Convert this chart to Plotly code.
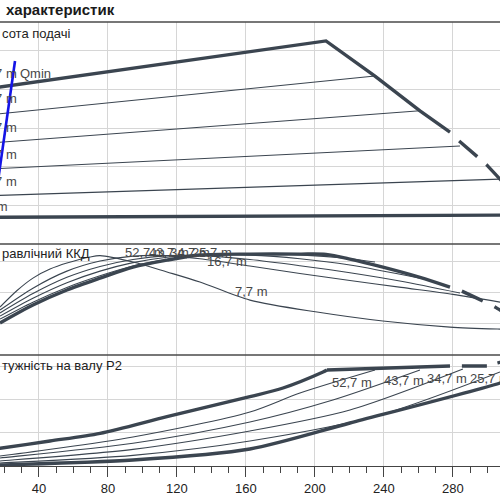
import plotly.graph_objects as go

# ---------------- data ----------------
Q_RANGE = [17.4, 307.3]
X_TICKS = [40, 80, 120, 160, 200, 240, 280]
SETPOINT_LABELS = ["52,7 m", "43,7 m", "34,7 m", "25,7 m", "16,7 m", "7,7 m"]

# top panel: head H (m)
q_max_solid = [10, 206.4, 234.8, 260.9, 278.3]
h_max_solid = [40.2, 52.6, 43.5, 34.5, 29.0]
q_max_dash = [283.6, 294.3, 299.6, 307.3, 315]
h_max_dash = [26.7, 22.5, 20.5, 16.8, 13.5]
q_h437 = [10, 234.8]
h_h437 = [33.4, 43.5]
q_h347 = [10, 260.9]
h_h347 = [26.1, 34.5]
q_h257 = [10, 284.1]
h_h257 = [19.4, 25.4]
q_h167 = [10, 307.3]
h_h167 = [12.5, 16.8]
q_min = [10, 307.3, 320]
h_min = [6.9, 7.5, 7.5]
q_qmin = [26.1, 13.3]
h_qmin = [47.4, 7.0]

# middle panel: hydraulic efficiency (%)
q_eta_max_solid = [17.4, 36.5, 56.2, 75.4, 94.5, 114.2, 133.3, 162.3, 191.3, 206.4, 220.3, 239.4, 260.9, 278.3]
eta_max_solid = [20.0, 31.6, 41.3, 49.0, 56.1, 60.6, 63.9, 64.5, 64.5, 64.3, 61.3, 56.1, 49.5, 43.2]
q_eta_max_dash = [285.2, 297.4, 304.4, 307.3, 315]
eta_max_dash = [40.6, 34.2, 30.3, 28.4, 24.0]
q_eta437 = [17.4, 36.5, 56.2, 75.4, 94.5, 114.2, 133.3, 162.3, 191.3, 220.3, 234.8]
eta437 = [22.6, 33.5, 43.0, 50.5, 56.8, 61.0, 63.6, 64.5, 64.0, 61.5, 59.4]
q_eta347 = [17.4, 36.5, 56.2, 75.4, 94.5, 114.2, 133.3, 162.3, 191.3, 220.3, 260.9]
eta347 = [24.5, 36.0, 46.0, 53.5, 59.0, 62.5, 64.0, 63.8, 61.5, 57.5, 49.0]
q_eta257 = [17.4, 36.5, 56.2, 75.4, 94.5, 114.2, 133.3, 162.3, 191.3, 220.3, 250, 284.1]
eta257 = [26.5, 39.0, 49.5, 56.5, 61.0, 63.5, 63.5, 61.0, 57.0, 52.5, 47.0, 39.4]
q_eta167 = [17.4, 36.5, 56.2, 75.4, 94.5, 114.2, 133.3, 162.3, 191.3, 220.3, 250, 280, 307.3]
eta167 = [28.4, 42.5, 53.5, 60.0, 63.2, 63.5, 61.5, 56.8, 52.0, 47.5, 43.0, 38.5, 33.5]
q_eta77 = [17.4, 27.3, 36.5, 46.4, 56.2, 69.6, 75.4, 94.5, 114.2, 133.3, 162.3, 201.2, 239.4, 278.3, 307.3, 315]
eta77 = [30.3, 41.0, 49.0, 54.8, 58.7, 62.6, 63.5, 59.4, 53.0, 46.5, 34.8, 27.1, 21.3, 17.4, 16.1, 15.9]

# bottom panel: shaft power P2
q_p_max_rise = [10, 17.4, 46.4, 75.4, 114.2, 162.3, 181.5, 204.7, 207.0]
p_max_rise = [4.8, 5.3, 7.5, 9.8, 14.8, 20.8, 23.4, 28.2, 28.8]
q_p_max_flat = [207.0, 278.3]
p_max_flat = [28.8, 30.0]
q_p_max_dash = [285.2, 299.7, 305.9, 315]
p_max_dash = [30.0, 30.0, 30.9, 32.5]
q_p437 = [10, 17.4, 94.5, 162.3, 191.3, 234.8]
p437 = [2.6, 3.0, 8.7, 16.2, 21.9, 28.8]
q_p347 = [10, 17.4, 94.5, 162.3, 210.4, 260.9]
p347 = [2.0, 2.4, 6.8, 13.2, 19.8, 28.8]
q_p257 = [10, 17.4, 94.5, 162.3, 220.3, 285.8]
p257 = [1.2, 1.5, 5.0, 10.5, 16.8, 29.1]
q_p167 = [10, 17.4, 94.5, 162.3, 237.7, 307.3]
p167 = [0.7, 0.9, 3.2, 7.5, 15.3, 28.2]
q_p77 = [10, 17.4, 94.5, 162.3, 220.3, 307.3, 315]
p77 = [0.2, 0.3, 1.8, 5.1, 12.9, 24.9, 26.5]

# label anchors
lab_top_q = [28.4, 28.4, 28.4, 28.4, 28.4, 23.2]
lab_top_h = [44.2, 37.6, 30.3, 23.3, 16.3, 9.6]
lab_mid_q = [88.7, 102.6, 114.8, 127.5, 136.2, 152.5]
lab_mid_eta = [65.8, 65.8, 65.8, 65.8, 59.4, 40.6]
lab_bot_q = [208.7, 238.9, 263.8, 288.7]
lab_bot_p = [25.2, 25.8, 26.4, 26.4]

# ---------------- figure ----------------
DARK = "#3b4550"
THICK = 3.4
THIN = 1.1
FONT = "Liberation Sans, Arial, sans-serif"

fig = go.Figure()


def add(q, v, yaxis, width, dash=None, shape="linear", color=DARK):
    fig.add_trace(go.Scatter(
        x=q, y=v, yaxis=yaxis, mode="lines", hoverinfo="skip", showlegend=False,
        line=dict(color=color, width=width, dash=dash, shape=shape, smoothing=0.8),
    ))


# top
add(q_h437, h_h437, "y", THIN)
add(q_h347, h_h347, "y", THIN)
add(q_h257, h_h257, "y", THIN)
add(q_h167, h_h167, "y", THIN)
add(q_min, h_min, "y", THICK)
add(q_max_solid, h_max_solid, "y", THICK)
add(q_max_dash, h_max_dash, "y", THICK, dash="24px,12px")
add(q_qmin, h_qmin, "y", 2.6, color="#1414e6")

# middle
add(q_eta77, eta77, "y2", THIN, shape="spline")
add(q_eta167, eta167, "y2", THIN, shape="spline")
add(q_eta257, eta257, "y2", THIN, shape="spline")
add(q_eta347, eta347, "y2", THIN, shape="spline")
add(q_eta437, eta437, "y2", THIN, shape="spline")
add(q_eta_max_solid, eta_max_solid, "y2", THICK, shape="spline")
add(q_eta_max_dash, eta_max_dash, "y2", THICK, dash="23px,13px", shape="spline")

# bottom
add(q_p437, p437, "y3", THIN, shape="spline")
add(q_p347, p347, "y3", THIN, shape="spline")
add(q_p257, p257, "y3", THIN, shape="spline")
add(q_p167, p167, "y3", THIN, shape="spline")
add(q_p77, p77, "y3", THICK, shape="spline")
add(q_p_max_rise, p_max_rise, "y3", THICK, shape="spline")
add(q_p_max_flat, p_max_flat, "y3", THICK)
add(q_p_max_dash, p_max_dash, "y3", THICK, dash="25px,11px")

GRID = "#d6d6d6"
LABEL_COLOR = "#474747"

ann = []
for txt, q, h in zip(SETPOINT_LABELS, lab_top_q, lab_top_h):
    ann.append(dict(x=q, y=h, xref="x", yref="y", text=txt, showarrow=False,
                    xanchor="right", yanchor="middle",
                    font=dict(family=FONT, size=13, color=LABEL_COLOR)))
ann.append(dict(x=27.8, y=44.2, xref="x", yref="y", text="Qmin", showarrow=False,
                xanchor="left", yanchor="middle",
                font=dict(family=FONT, size=13, color=LABEL_COLOR)))
for txt, q, e in zip(SETPOINT_LABELS, lab_mid_q, lab_mid_eta):
    ann.append(dict(x=q, y=e, xref="x", yref="y2", text=txt, showarrow=False,
                    xanchor="left", yanchor="middle",
                    font=dict(family=FONT, size=13, color=LABEL_COLOR)))
for txt, q, p in zip(SETPOINT_LABELS, lab_bot_q, lab_bot_p):
    ann.append(dict(x=q, y=p, xref="x", yref="y3", text=txt, showarrow=False,
                    xanchor="left", yanchor="middle",
                    font=dict(family=FONT, size=13, color=LABEL_COLOR)))

# panel titles
ann.append(dict(x=0.008, y=1 - 9 / 500, xref="paper", yref="paper", text="<b>характеристик</b>",
                showarrow=False, xanchor="left", yanchor="middle",
                font=dict(family=FONT, size=15, color="#1a1a1a")))
ann.append(dict(x=0.0, y=1 - 33 / 500, xref="paper", yref="paper", text="сота подачі",
                showarrow=False, xanchor="left", yanchor="middle",
                font=dict(family=FONT, size=13, color="#222222")))
ann.append(dict(x=0.0, y=1 - 253 / 500, xref="paper", yref="paper", text="равлічний ККД",
                showarrow=False, xanchor="left", yanchor="middle",
                font=dict(family=FONT, size=13, color="#222222")))
ann.append(dict(x=0.0, y=1 - 365 / 500, xref="paper", yref="paper", text="тужність на валу P2",
                showarrow=False, xanchor="left", yanchor="middle",
                font=dict(family=FONT, size=13, color="#222222")))

shapes = []
for py in [22, 244, 355]:
    shapes.append(dict(type="line", xref="paper", yref="paper", x0=0, x1=1,
                       y0=1 - py / 500, y1=1 - py / 500,
                       line=dict(color="#4a4a4a", width=1.3), layer="above"))

fig.update_layout(
    width=500, height=500,
    margin=dict(l=0, r=0, t=0, b=0),
    paper_bgcolor="white", plot_bgcolor="white",
    showlegend=False,
    annotations=ann,
    shapes=shapes,
    xaxis=dict(range=Q_RANGE, tickvals=X_TICKS, ticks="outside", ticklen=10, tickwidth=1,
               tickcolor="#444", showline=True, linecolor="#444", linewidth=1.3,
               showgrid=True, gridcolor=GRID, gridwidth=1, zeroline=False,
               tickfont=dict(family=FONT, size=13, color="#222"),
               minor=dict(dtick=10, tick0=0, ticks="outside", ticklen=6, tickcolor="#444",
                          showgrid=False),
               anchor="y3", domain=[0, 1]),
    yaxis=dict(domain=[1 - 244 / 500, 1 - 22 / 500], range=[0, 57.5],
               tickvals=[10, 20, 30, 40, 50], showticklabels=False, ticks="",
               showgrid=True, gridcolor=GRID, zeroline=False),
    yaxis2=dict(domain=[1 - 355 / 500, 1 - 244 / 500], range=[-0.6, 71],
                tickvals=[20, 40, 60], showticklabels=False, ticks="",
                showgrid=True, gridcolor=GRID, zeroline=False),
    yaxis3=dict(domain=[1 - 466 / 500, 1 - 355 / 500], range=[0, 33.3],
                tickvals=[10, 20, 30], showticklabels=False, ticks="",
                showgrid=True, gridcolor=GRID, zeroline=False),
)

fig.write_html("out.html")
